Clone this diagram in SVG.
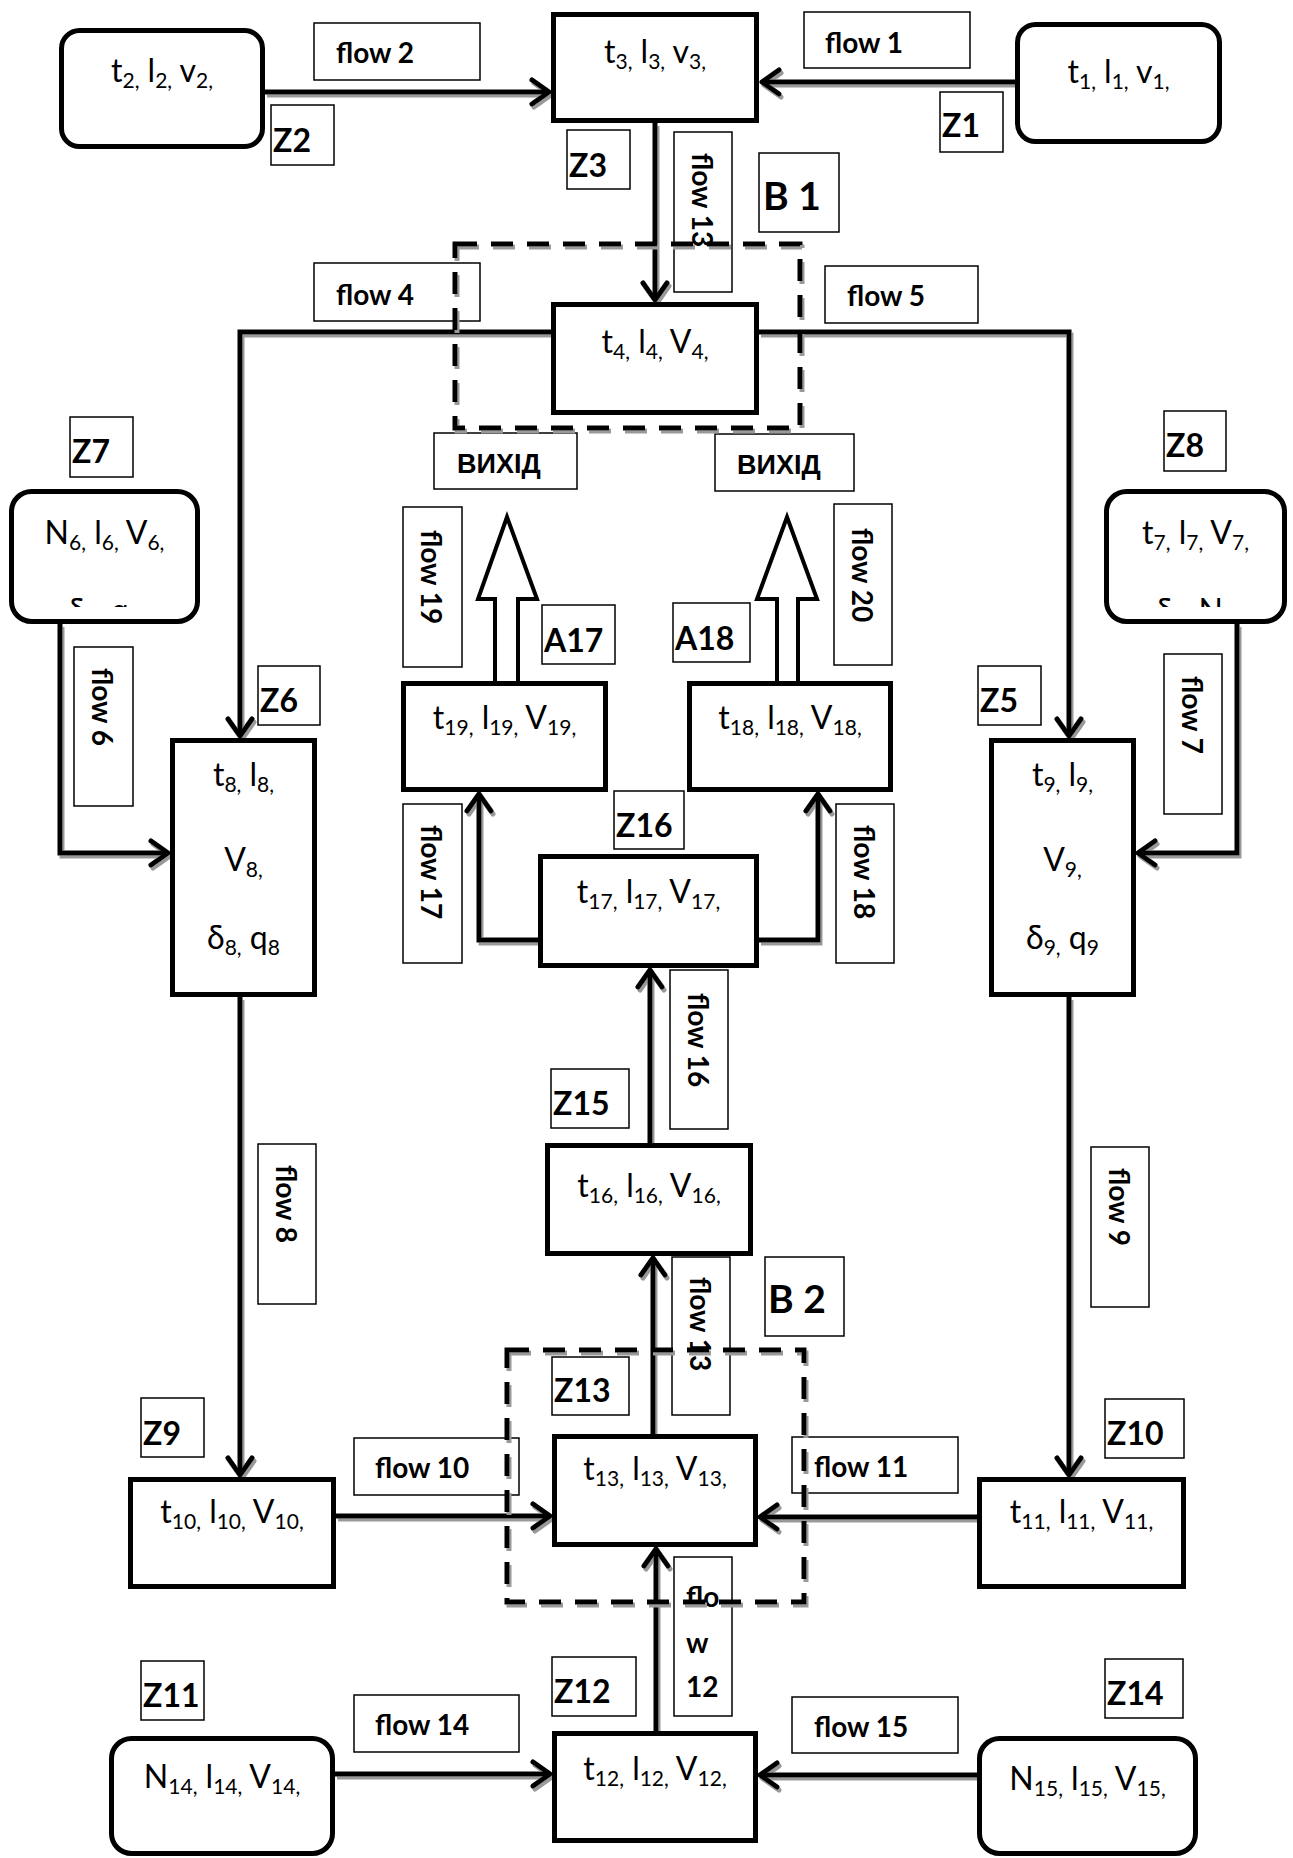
<svg xmlns="http://www.w3.org/2000/svg" width="1293" height="1858" viewBox="0 0 1293 1858">
<style>
.nd{fill:#fff;stroke:#000;stroke-width:5}
.lb{fill:#fff;stroke:#000;stroke-width:1.5}
.nt{font-family:Lato,"Liberation Sans",sans-serif;font-size:32px;text-anchor:middle;fill:#000}
.s{font-size:21px}
.bt{font-family:Lato,"Liberation Sans",sans-serif;font-weight:bold;font-size:28px;fill:#000}
.zt{font-family:Lato,"Liberation Sans",sans-serif;font-weight:bold;font-size:32px;fill:#000}
.big{font-family:Lato,"Liberation Sans",sans-serif;font-weight:bold;font-size:39px;fill:#000}
.cy{font-family:"Liberation Sans",sans-serif;font-weight:bold;font-size:27px;fill:#000}
.cn{fill:none;stroke:#000;stroke-width:5;stroke-linejoin:miter;marker-end:url(#ah)}
.ds{fill:none;stroke:#000;stroke-width:5;stroke-dasharray:22 14}
.ho{fill:#fff;stroke:#000;stroke-width:4;stroke-linejoin:miter}
</style>
<defs>
<marker id="ah" markerUnits="userSpaceOnUse" viewBox="-22 -16 30 32" markerWidth="30" markerHeight="32" refX="0" refY="0" orient="auto" overflow="visible">
<path d="M-17,-12 L0,0 L-17,12" fill="none" stroke="#000" stroke-width="5" stroke-linejoin="round" stroke-linecap="round"/>
</marker>
<filter id="sh" filterUnits="userSpaceOnUse" x="0" y="0" width="1293" height="1858">
<feOffset in="SourceAlpha" dx="2" dy="3" result="o"/>
<feFlood flood-color="#999999"/>
<feComposite in2="o" operator="in" result="s"/>
<feMerge><feMergeNode in="s"/><feMergeNode in="SourceGraphic"/></feMerge>
</filter>
<clipPath id="c6"><rect x="9" y="489" width="192" height="118"/></clipPath>
<clipPath id="c7"><rect x="1104" y="489" width="184" height="118"/></clipPath>
</defs>
<rect width="1293" height="1858" fill="#fff"/>

<g id="connectors">
<g filter="url(#sh)">
<path class="cn" d="M1015,82 H762"/>
<path class="cn" d="M265,92 H549"/>
<path class="cn" d="M655,123 V300"/>
<path class="cn" d="M551,332 H240 V736"/>
<path class="cn" d="M759,332 H1069 V736"/>
<path class="cn" d="M60,624 V853 H168"/>
<path class="cn" d="M1237,624 V853 H1138"/>
<path class="cn" d="M240,997 V1475"/>
<path class="cn" d="M1069,997 V1475"/>
<path class="cn" d="M336,1516 H550"/>
<path class="cn" d="M977,1517 H760"/>
<path class="cn" d="M656,1731 V1549"/>
<path class="cn" d="M653,1434 V1258"/>
<path class="cn" d="M650,1143 V970"/>
<path class="cn" d="M538,940 H479 V794"/>
<path class="cn" d="M759,940 H818 V794"/>
<path class="cn" d="M335,1774 H550"/>
<path class="cn" d="M977,1775 H760"/>
</g>
<path class="ho" d="M495,683 V599 H478 L507,517 L537,599 H518 V683"/>
<path class="ho" d="M777,683 V599 H757 L787,517 L817,599 H798 V683"/>
</g>

<g id="n-t1"><rect class="nd" x="1017.5" y="24.5" width="202" height="117" rx="18"/><text class="nt" x="1118.5" y="83">t<tspan class="s" dy="6">1,</tspan><tspan dy="-6"> l</tspan><tspan class="s" dy="6">1,</tspan><tspan dy="-6"> v</tspan><tspan class="s" dy="6">1,</tspan></text></g>
<g id="n-t2"><rect class="nd" x="61.5" y="30.5" width="201" height="116" rx="18"/><text class="nt" x="162" y="82">t<tspan class="s" dy="6">2,</tspan><tspan dy="-6"> l</tspan><tspan class="s" dy="6">2,</tspan><tspan dy="-6"> v</tspan><tspan class="s" dy="6">2,</tspan></text></g>
<g id="n-t3"><rect class="nd" x="553.5" y="14.5" width="203" height="106"/><text class="nt" x="655" y="63">t<tspan class="s" dy="6">3,</tspan><tspan dy="-6"> l</tspan><tspan class="s" dy="6">3,</tspan><tspan dy="-6"> v</tspan><tspan class="s" dy="6">3,</tspan></text></g>
<g id="n-t4"><rect class="nd" x="553.5" y="304.5" width="203" height="108"/><text class="nt" x="655" y="353">t<tspan class="s" dy="6">4,</tspan><tspan dy="-6"> l</tspan><tspan class="s" dy="6">4,</tspan><tspan dy="-6"> V</tspan><tspan class="s" dy="6">4,</tspan></text></g>
<g id="n-n6"><rect class="nd" x="11.5" y="491.5" width="186" height="130" rx="20"/><text class="nt" x="104.5" y="544">N<tspan class="s" dy="6">6,</tspan><tspan dy="-6"> l</tspan><tspan class="s" dy="6">6,</tspan><tspan dy="-6"> V</tspan><tspan class="s" dy="6">6,</tspan></text><text class="nt" x="104.5" y="622" clip-path="url(#c6)">δ<tspan class="s" dy="6">6,</tspan><tspan dy="-6"> q</tspan><tspan class="s" dy="6">6</tspan></text></g>
<g id="n-t7"><rect class="nd" x="1106.5" y="491.5" width="178" height="130" rx="20"/><text class="nt" x="1195.5" y="544">t<tspan class="s" dy="6">7,</tspan><tspan dy="-6"> l</tspan><tspan class="s" dy="6">7,</tspan><tspan dy="-6"> V</tspan><tspan class="s" dy="6">7,</tspan></text><text class="nt" x="1195.5" y="622" clip-path="url(#c7)">δ<tspan class="s" dy="6">7,</tspan><tspan dy="-6"> N</tspan><tspan class="s" dy="6">7</tspan></text></g>
<g id="n-t8"><rect class="nd" x="172.5" y="740.5" width="142" height="254"/><text class="nt" x="243.5" y="786">t<tspan class="s" dy="6">8,</tspan><tspan dy="-6"> l</tspan><tspan class="s" dy="6">8,</tspan></text><text class="nt" x="243.5" y="871">V<tspan class="s" dy="6">8,</tspan></text><text class="nt" x="243.5" y="949">δ<tspan class="s" dy="6">8,</tspan><tspan dy="-6"> q</tspan><tspan class="s" dy="6">8</tspan></text></g>
<g id="n-t9"><rect class="nd" x="991.5" y="740.5" width="142" height="254"/><text class="nt" x="1062.5" y="786">t<tspan class="s" dy="6">9,</tspan><tspan dy="-6"> l</tspan><tspan class="s" dy="6">9,</tspan></text><text class="nt" x="1062.5" y="871">V<tspan class="s" dy="6">9,</tspan></text><text class="nt" x="1062.5" y="949">δ<tspan class="s" dy="6">9,</tspan><tspan dy="-6"> q</tspan><tspan class="s" dy="6">9</tspan></text></g>
<g id="n-t19"><rect class="nd" x="403.5" y="683.5" width="202" height="106"/><text class="nt" x="504.5" y="729">t<tspan class="s" dy="6">19,</tspan><tspan dy="-6"> l</tspan><tspan class="s" dy="6">19,</tspan><tspan dy="-6"> V</tspan><tspan class="s" dy="6">19,</tspan></text></g>
<g id="n-t18"><rect class="nd" x="689.5" y="683.5" width="201" height="106"/><text class="nt" x="790" y="729">t<tspan class="s" dy="6">18,</tspan><tspan dy="-6"> l</tspan><tspan class="s" dy="6">18,</tspan><tspan dy="-6"> V</tspan><tspan class="s" dy="6">18,</tspan></text></g>
<g id="n-t17"><rect class="nd" x="540.5" y="856.5" width="216" height="109"/><text class="nt" x="648.5" y="903">t<tspan class="s" dy="6">17,</tspan><tspan dy="-6"> l</tspan><tspan class="s" dy="6">17,</tspan><tspan dy="-6"> V</tspan><tspan class="s" dy="6">17,</tspan></text></g>
<g id="n-t16"><rect class="nd" x="547.5" y="1145.5" width="203" height="108"/><text class="nt" x="649" y="1197">t<tspan class="s" dy="6">16,</tspan><tspan dy="-6"> l</tspan><tspan class="s" dy="6">16,</tspan><tspan dy="-6"> V</tspan><tspan class="s" dy="6">16,</tspan></text></g>
<g id="n-t13"><rect class="nd" x="554.5" y="1436.5" width="201" height="108"/><text class="nt" x="655" y="1480">t<tspan class="s" dy="6">13,</tspan><tspan dy="-6"> l</tspan><tspan class="s" dy="6">13,</tspan><tspan dy="-6"> V</tspan><tspan class="s" dy="6">13,</tspan></text></g>
<g id="n-t10"><rect class="nd" x="130.5" y="1479.5" width="203" height="107"/><text class="nt" x="232" y="1523">t<tspan class="s" dy="6">10,</tspan><tspan dy="-6"> l</tspan><tspan class="s" dy="6">10,</tspan><tspan dy="-6"> V</tspan><tspan class="s" dy="6">10,</tspan></text></g>
<g id="n-t11"><rect class="nd" x="979.5" y="1479.5" width="204" height="107"/><text class="nt" x="1081.5" y="1523">t<tspan class="s" dy="6">11,</tspan><tspan dy="-6"> l</tspan><tspan class="s" dy="6">11,</tspan><tspan dy="-6"> V</tspan><tspan class="s" dy="6">11,</tspan></text></g>
<g id="n-t12"><rect class="nd" x="554.5" y="1733.5" width="201" height="107"/><text class="nt" x="655" y="1780">t<tspan class="s" dy="6">12,</tspan><tspan dy="-6"> l</tspan><tspan class="s" dy="6">12,</tspan><tspan dy="-6"> V</tspan><tspan class="s" dy="6">12,</tspan></text></g>
<g id="n-n14"><rect class="nd" x="111.5" y="1738.5" width="221" height="115" rx="20"/><text class="nt" x="222" y="1788">N<tspan class="s" dy="6">14,</tspan><tspan dy="-6"> l</tspan><tspan class="s" dy="6">14,</tspan><tspan dy="-6"> V</tspan><tspan class="s" dy="6">14,</tspan></text></g>
<g id="n-n15"><rect class="nd" x="979.5" y="1738.5" width="216" height="115" rx="20"/><text class="nt" x="1087.5" y="1790">N<tspan class="s" dy="6">15,</tspan><tspan dy="-6"> l</tspan><tspan class="s" dy="6">15,</tspan><tspan dy="-6"> V</tspan><tspan class="s" dy="6">15,</tspan></text></g>

<g id="labels">
<g id="l-flow1"><rect class="lb" x="804" y="12" width="166" height="56"/><text class="bt" x="825" y="53">flow 1</text></g>
<g id="l-flow2"><rect class="lb" x="314" y="23" width="166" height="57"/><text class="bt" x="336" y="63">flow 2</text></g>
<g id="l-z1"><rect class="lb" x="940" y="92" width="63" height="60"/><text class="zt" x="942" y="137">Z1</text></g>
<g id="l-z2"><rect class="lb" x="271" y="105" width="63" height="60"/><text class="zt" x="273" y="152">Z2</text></g>
<g id="l-z3"><rect class="lb" x="567" y="130" width="63" height="59"/><text class="zt" x="569" y="177">Z3</text></g>
<g id="l-flow13a"><rect class="lb" x="674" y="132" width="58" height="160"/><text class="bt" transform="translate(692,153) rotate(90)">flow 13</text></g>
<g id="l-b1"><rect class="lb" x="759" y="153" width="80" height="79"/><text class="big" x="763" y="210">B 1</text></g>
<g id="l-flow4"><rect class="lb" x="314" y="263" width="166" height="58"/><text class="bt" x="336" y="305">flow 4</text></g>
<g id="l-flow5"><rect class="lb" x="825" y="266" width="153" height="57"/><text class="bt" x="847" y="306">flow 5</text></g>
<g id="l-out1"><rect class="lb" x="434" y="433" width="143" height="56"/><text class="cy" x="457" y="473">ВИХІД</text></g>
<g id="l-out2"><rect class="lb" x="715" y="434" width="139" height="57"/><text class="cy" x="737" y="474">ВИХІД</text></g>
<g id="l-z7"><rect class="lb" x="70" y="417" width="63" height="60"/><text class="zt" x="72" y="463">Z7</text></g>
<g id="l-z8"><rect class="lb" x="1164" y="411" width="62" height="60"/><text class="zt" x="1166" y="457">Z8</text></g>
<g id="l-flow19"><rect class="lb" x="403" y="507" width="59" height="160"/><text class="bt" transform="translate(421,530) rotate(90)">flow 19</text></g>
<g id="l-flow20"><rect class="lb" x="834" y="504" width="58" height="161"/><text class="bt" transform="translate(852,528) rotate(90)">flow 20</text></g>
<g id="l-a17"><rect class="lb" x="542" y="605" width="73" height="59"/><text class="zt" x="544" y="652">A17</text></g>
<g id="l-a18"><rect class="lb" x="673" y="603" width="77" height="59"/><text class="zt" x="675" y="650">A18</text></g>
<g id="l-z6"><rect class="lb" x="258" y="666" width="62" height="59"/><text class="zt" x="260" y="712">Z6</text></g>
<g id="l-z5"><rect class="lb" x="978" y="666" width="63" height="59"/><text class="zt" x="980" y="712">Z5</text></g>
<g id="l-flow6"><rect class="lb" x="74" y="647" width="59" height="159"/><text class="bt" transform="translate(92,668) rotate(90)">flow 6</text></g>
<g id="l-flow7"><rect class="lb" x="1164" y="654" width="58" height="160"/><text class="bt" transform="translate(1182,676) rotate(90)">flow 7</text></g>
<g id="l-flow17"><rect class="lb" x="403" y="804" width="59" height="159"/><text class="bt" transform="translate(421,825) rotate(90)">flow 17</text></g>
<g id="l-flow18"><rect class="lb" x="836" y="804" width="58" height="159"/><text class="bt" transform="translate(854,825) rotate(90)">flow 18</text></g>
<g id="l-z16"><rect class="lb" x="614" y="791" width="70" height="58"/><text class="zt" x="616" y="837">Z16</text></g>
<g id="l-flow16"><rect class="lb" x="670" y="970" width="58" height="159"/><text class="bt" transform="translate(688,993) rotate(90)">flow 16</text></g>
<g id="l-z15"><rect class="lb" x="551" y="1069" width="78" height="59"/><text class="zt" x="553" y="1115">Z15</text></g>
<g id="l-flow8"><rect class="lb" x="258" y="1144" width="58" height="160"/><text class="bt" transform="translate(276,1165) rotate(90)">flow 8</text></g>
<g id="l-flow9"><rect class="lb" x="1091" y="1147" width="58" height="160"/><text class="bt" transform="translate(1109,1168) rotate(90)">flow 9</text></g>
<g id="l-flow13b"><rect class="lb" x="672" y="1257" width="58" height="158"/><text class="bt" transform="translate(690,1277) rotate(90)">flow 13</text></g>
<g id="l-b2"><rect class="lb" x="765" y="1257" width="79" height="79"/><text class="big" x="768" y="1313">B 2</text></g>
<g id="l-z13"><rect class="lb" x="552" y="1357" width="77" height="58"/><text class="zt" x="554" y="1402">Z13</text></g>
<g id="l-z9"><rect class="lb" x="141" y="1398" width="63" height="59"/><text class="zt" x="143" y="1445">Z9</text></g>
<g id="l-z10"><rect class="lb" x="1105" y="1399" width="79" height="59"/><text class="zt" x="1107" y="1445">Z10</text></g>
<g id="l-flow10"><rect class="lb" x="354" y="1438" width="165" height="57"/><text class="bt" x="375" y="1478">flow 10</text></g>
<g id="l-flow11"><rect class="lb" x="792" y="1437" width="166" height="56"/><text class="bt" x="814" y="1477">flow 11</text></g>
<g id="l-flow12"><rect class="lb" x="674" y="1557" width="58" height="159"/><text class="bt" x="686" y="1607">flo</text><text class="bt" x="686" y="1653">w</text><text class="bt" x="686" y="1697">12</text></g>
<g id="l-z11"><rect class="lb" x="141" y="1661" width="63" height="59"/><text class="zt" x="143" y="1707">Z11</text></g>
<g id="l-z12"><rect class="lb" x="552" y="1657" width="84" height="59"/><text class="zt" x="554" y="1703">Z12</text></g>
<g id="l-z14"><rect class="lb" x="1105" y="1659" width="78" height="59"/><text class="zt" x="1107" y="1705">Z14</text></g>
<g id="l-flow14"><rect class="lb" x="354" y="1695" width="165" height="57"/><text class="bt" x="375" y="1735">flow 14</text></g>
<g id="l-flow15"><rect class="lb" x="792" y="1697" width="166" height="56"/><text class="bt" x="814" y="1737">flow 15</text></g>
</g>

<g id="blocks" filter="url(#sh)">
<rect id="b1-frame" class="ds" x="455" y="244" width="345" height="184"/>
<rect id="b2-frame" class="ds" x="507" y="1350" width="297" height="252"/>
</g>
</svg>
